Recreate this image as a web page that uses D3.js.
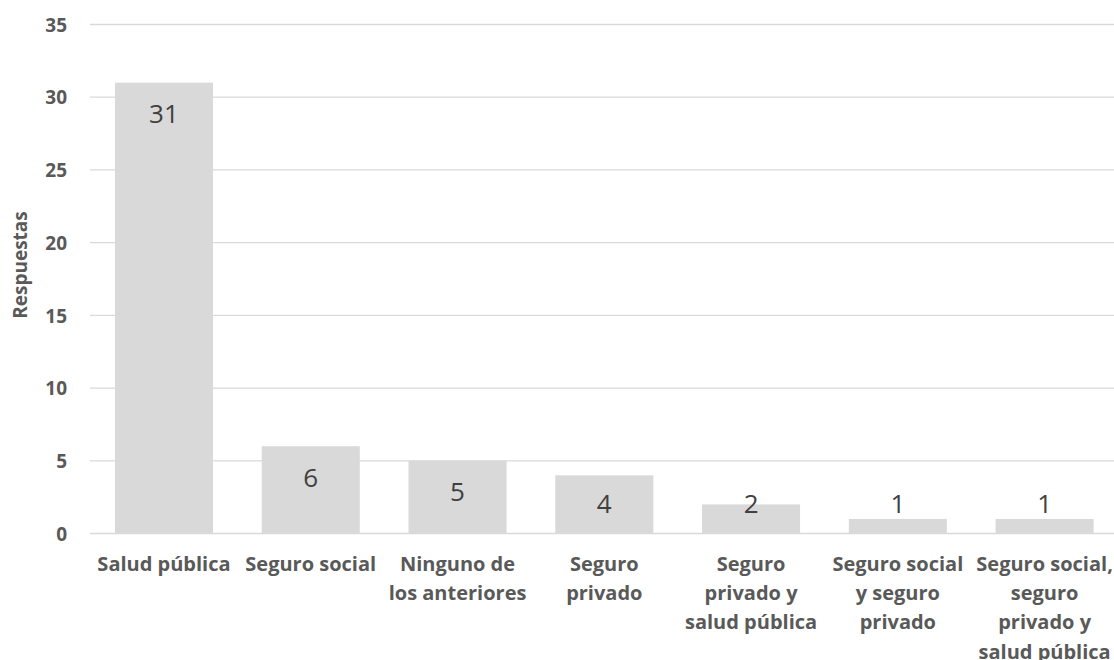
<!DOCTYPE html>
<html>
<head>
<meta charset="utf-8">
<script src="https://cdn.jsdelivr.net/npm/d3@7"></script>
<style>
  html, body { margin: 0; padding: 0; background: #fff; }
  svg { display: block; }
</style>
</head>
<body>
<svg id="chart" width="1114" height="660"></svg>
<script>
const categories = [
  ["Salud pública"],
  ["Seguro social"],
  ["Ninguno de", "los anteriores"],
  ["Seguro", "privado"],
  ["Seguro", "privado y", "salud pública"],
  ["Seguro social", "y seguro", "privado"],
  ["Seguro social,", "seguro", "privado y", "salud pública"]
];
const values = [31, 6, 5, 4, 2, 1, 1];
const yTicks = [0, 5, 10, 15, 20, 25, 30, 35];
const yTitle = "Respuestas";

const FONT = "'Open Sans', 'Noto Sans', sans-serif";
const svg = d3.select("#chart");
const W = 1114;

const keys = categories.map((c, i) => i);
const x = d3.scaleBand().domain(keys).range([90.6, 1118]).paddingInner(0.332).paddingOuter(0.166);
const y = d3.scaleLinear().domain([0, 35]).range([533.5, 24.5]);

// gridlines
svg.append("g").selectAll("line").data(yTicks).join("line")
  .attr("x1", 90).attr("x2", W)
  .attr("y1", d => y(d)).attr("y2", d => y(d))
  .attr("stroke", "#d9d9d9").attr("stroke-width", 1.3);

// y axis labels
const yAxis = d3.axisLeft(y).tickValues(yTicks).tickSize(0).tickPadding(0);
const gy = svg.append("g").attr("transform", "translate(67,0)").call(yAxis);
gy.select(".domain").remove();
gy.selectAll("text")
  .attr("font-family", FONT).attr("font-weight", "bold").attr("font-size", 19)
  .attr("fill", "#595959").attr("dy", "0.35em");

// bars
svg.append("g").selectAll("rect").data(values).join("rect")
  .attr("x", (d, i) => x(i)).attr("width", x.bandwidth())
  .attr("y", d => y(d)).attr("height", d => y(0) - y(d))
  .attr("fill", "#d9d9d9");

// value labels
svg.append("g").selectAll("text").data(values).join("text")
  .attr("x", (d, i) => x(i) + x.bandwidth() / 2)
  .attr("y", d => Math.min(y(d) + 40.5, 513))
  .attr("text-anchor", "middle")
  .attr("font-family", FONT).attr("font-size", 26)
  .attr("fill", "#404040")
  .text(d => d);

// category labels
const cg = svg.append("g").selectAll("text").data(categories).join("text")
  .attr("text-anchor", "middle")
  .attr("font-family", FONT).attr("font-weight", "bold").attr("font-size", 20)
  .attr("fill", "#595959");
cg.selectAll("tspan").data((d, i) => d.map(t => ({t, i}))).join("tspan")
  .attr("x", d => x(d.i) + x.bandwidth() / 2)
  .attr("y", (d, j) => 571 + j * 29.2)
  .text(d => d.t);

// y title
svg.append("text")
  .attr("transform", "translate(27,265) rotate(-90)")
  .attr("text-anchor", "middle")
  .attr("font-family", FONT).attr("font-weight", "bold").attr("font-size", 19)
  .attr("fill", "#595959")
  .text(yTitle);
</script>
</body>
</html>
